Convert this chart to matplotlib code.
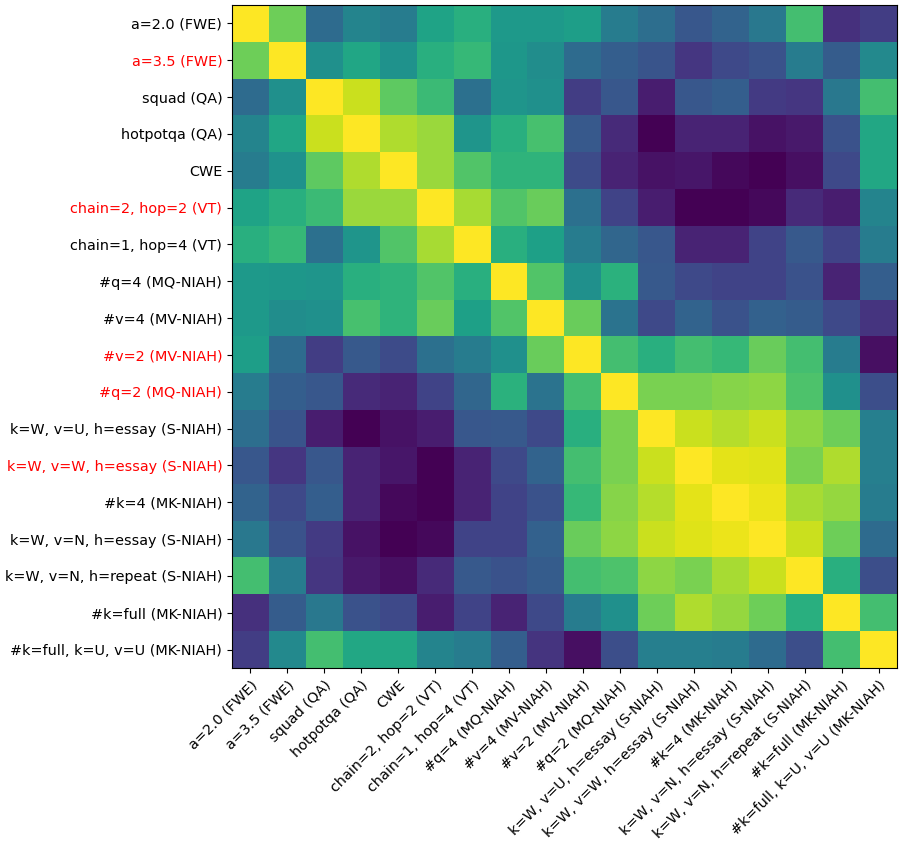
import numpy as np
import matplotlib
matplotlib.use("Agg")
import matplotlib.pyplot as plt

labels = [
    "a=2.0 (FWE)", "a=3.5 (FWE)", "squad (QA)", "hotpotqa (QA)", "CWE",
    "chain=2, hop=2 (VT)", "chain=1, hop=4 (VT)", "#q=4 (MQ-NIAH)", "#v=4 (MV-NIAH)",
    "#v=2 (MV-NIAH)", "#q=2 (MQ-NIAH)", "k=W, v=U, h=essay (S-NIAH)",
    "k=W, v=W, h=essay (S-NIAH)", "#k=4 (MK-NIAH)", "k=W, v=N, h=essay (S-NIAH)",
    "k=W, v=N, h=repeat (S-NIAH)", "#k=full (MK-NIAH)", "#k=full, k=U, v=U (MK-NIAH)",
]
red_labels = ["a=3.5 (FWE)", "chain=2, hop=2 (VT)", "#v=2 (MV-NIAH)",
              "#q=2 (MQ-NIAH)", "k=W, v=W, h=essay (S-NIAH)"]

row00 = [1.00, 0.78, 0.35, 0.45, 0.42, 0.58, 0.63, 0.54, 0.54, 0.56, 0.42, 0.36, 0.27, 0.32, 0.40, 0.70, 0.14, 0.18]
row01 = [0.78, 1.00, 0.50, 0.59, 0.51, 0.63, 0.67, 0.53, 0.49, 0.35, 0.30, 0.26, 0.16, 0.22, 0.25, 0.42, 0.29, 0.47]
row02 = [0.35, 0.50, 1.00, 0.92, 0.75, 0.68, 0.37, 0.52, 0.50, 0.18, 0.27, 0.08, 0.27, 0.30, 0.17, 0.16, 0.40, 0.70]
row03 = [0.45, 0.59, 0.92, 1.00, 0.88, 0.85, 0.52, 0.63, 0.71, 0.28, 0.12, 0.00, 0.10, 0.10, 0.05, 0.07, 0.25, 0.60]
row04 = [0.42, 0.51, 0.75, 0.88, 1.00, 0.85, 0.73, 0.65, 0.65, 0.23, 0.10, 0.05, 0.06, 0.02, 0.00, 0.04, 0.22, 0.60]
row05 = [0.58, 0.63, 0.68, 0.85, 0.85, 1.00, 0.87, 0.73, 0.77, 0.37, 0.20, 0.08, 0.00, 0.00, 0.02, 0.12, 0.08, 0.45]
row06 = [0.63, 0.67, 0.37, 0.52, 0.73, 0.87, 1.00, 0.63, 0.57, 0.42, 0.33, 0.27, 0.10, 0.10, 0.20, 0.28, 0.20, 0.42]
row07 = [0.54, 0.53, 0.52, 0.63, 0.65, 0.73, 0.63, 1.00, 0.73, 0.50, 0.64, 0.28, 0.22, 0.20, 0.20, 0.25, 0.10, 0.30]
row08 = [0.54, 0.49, 0.50, 0.71, 0.65, 0.77, 0.57, 0.73, 1.00, 0.77, 0.38, 0.22, 0.32, 0.25, 0.31, 0.29, 0.22, 0.15]
row09 = [0.56, 0.35, 0.18, 0.28, 0.23, 0.37, 0.42, 0.50, 0.77, 1.00, 0.70, 0.63, 0.70, 0.67, 0.77, 0.70, 0.42, 0.04]
row10 = [0.42, 0.30, 0.27, 0.12, 0.10, 0.20, 0.33, 0.64, 0.38, 0.70, 1.00, 0.80, 0.80, 0.82, 0.83, 0.72, 0.50, 0.24]
row11 = [0.36, 0.26, 0.08, 0.00, 0.05, 0.08, 0.27, 0.28, 0.22, 0.63, 0.80, 1.00, 0.92, 0.89, 0.92, 0.83, 0.78, 0.43]
row12 = [0.27, 0.16, 0.27, 0.10, 0.06, 0.00, 0.10, 0.22, 0.32, 0.70, 0.80, 0.92, 1.00, 0.96, 0.95, 0.80, 0.88, 0.43]
row13 = [0.32, 0.22, 0.30, 0.10, 0.02, 0.00, 0.10, 0.20, 0.25, 0.67, 0.82, 0.89, 0.96, 1.00, 0.97, 0.87, 0.84, 0.42]
row14 = [0.40, 0.25, 0.17, 0.05, 0.00, 0.02, 0.20, 0.20, 0.31, 0.77, 0.83, 0.92, 0.95, 0.97, 1.00, 0.92, 0.78, 0.35]
row15 = [0.70, 0.42, 0.16, 0.07, 0.04, 0.12, 0.28, 0.25, 0.29, 0.70, 0.72, 0.83, 0.80, 0.87, 0.92, 1.00, 0.63, 0.24]
row16 = [0.14, 0.29, 0.40, 0.25, 0.22, 0.08, 0.20, 0.10, 0.22, 0.42, 0.50, 0.78, 0.88, 0.84, 0.78, 0.63, 1.00, 0.70]
row17 = [0.18, 0.47, 0.70, 0.60, 0.60, 0.45, 0.42, 0.30, 0.15, 0.04, 0.24, 0.43, 0.43, 0.42, 0.35, 0.24, 0.70, 1.00]

matrix = np.array([row00, row01, row02, row03, row04, row05, row06, row07, row08,
                   row09, row10, row11, row12, row13, row14, row15, row16, row17])

fig = plt.figure(figsize=(9.01, 8.44), dpi=100)
ax = fig.add_axes([232 / 901, 1 - 668 / 844, (897 - 232) / 901, (668 - 5) / 844])
ax.imshow(matrix, cmap="viridis", vmin=0, vmax=1, aspect="auto", interpolation="nearest")

n = len(labels)
ax.set_xticks(range(n))
ax.set_yticks(range(n))
ax.set_xticklabels(labels, rotation=45, ha="right", rotation_mode="anchor", fontsize=10.4)
ax.set_yticklabels(labels, fontsize=10.4)
for t in ax.get_yticklabels():
    if t.get_text() in red_labels:
        t.set_color("red")

fig.savefig("out.png", dpi=100)
